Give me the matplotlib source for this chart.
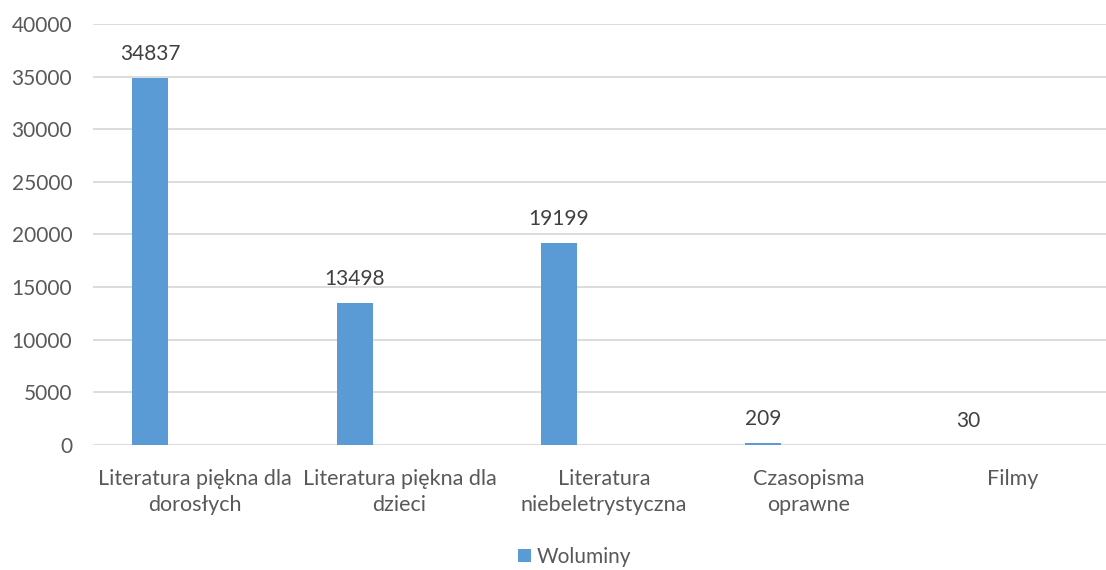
import matplotlib
matplotlib.use("Agg")
import matplotlib.pyplot as plt
from matplotlib.patches import Patch

categories = ["Literatura piękna dla\ndorosłych", "Literatura piękna dla\ndzieci",
              "Literatura\nniebeletrystyczna", "Czasopisma\noprawne", "Filmy"]
values = [34837, 13498, 19199, 209, 30]
series_name = "Woluminy"
y_ticks = [0, 5000, 10000, 15000, 20000, 25000, 30000, 35000, 40000]

W, H = 1106, 570
fig = plt.figure(figsize=(W / 100, H / 100), dpi=100)
plt.rcParams['font.family'] = ['Lato', 'DejaVu Sans']

left, right, top, bottom = 93, 1115, 24, 445
ax = fig.add_axes([left / W, (H - bottom) / H, (right - left) / W, (bottom - top) / H])

bar_color = "#5B9BD5"
text_color = "#595959"
grid_color = "#D9D9D9"

x = list(range(len(categories)))
offset = -0.22
bw = 0.176
xb = [i + offset for i in x]
bars = ax.bar(xb, values, width=bw, color=bar_color, zorder=3)
for xi, v in zip(xb, values):
    ax.annotate(str(v), (xi, v), xytext=(0, 10), textcoords="offset points",
                ha="center", va="bottom", fontsize=15, color="#404040")

ax.set_xlim(-0.5, len(categories) - 0.5)
ax.set_ylim(0, 40000)
ax.set_yticks(y_ticks)
ax.set_yticklabels([str(t) for t in y_ticks])
ax.set_xticks(x)
ax.set_xticklabels(categories, linespacing=1.4)
ax.tick_params(axis="y", length=0, pad=15, labelsize=15, labelcolor=text_color)
ax.tick_params(axis="x", length=0, pad=17, labelsize=15.5, labelcolor=text_color)
ax.grid(axis="y", color=grid_color, linewidth=1.3, zorder=0)
for s in ax.spines.values():
    s.set_visible(False)

handles = [Patch(facecolor=bar_color, edgecolor="none", label=series_name)]
fig.legend(handles=handles, loc="center", bbox_to_anchor=(575 / W, 1 - 557 / H),
           frameon=False, fontsize=15, handlelength=0.6, handleheight=0.6,
           handletextpad=0.3, labelcolor=text_color)

fig.savefig("out.png", dpi=100)
